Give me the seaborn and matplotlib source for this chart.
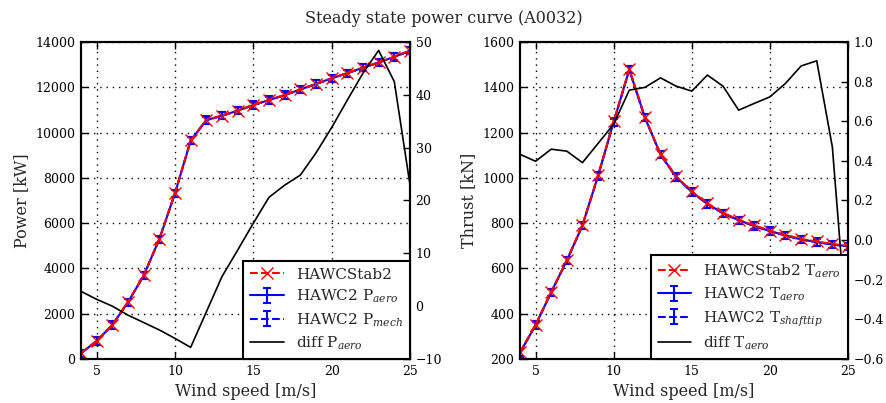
import matplotlib
matplotlib.use("Agg")
import matplotlib.pyplot as plt
import seaborn as sns
import pandas as pd
from matplotlib.lines import Line2D

# ---------------- data ----------------
wind = [4, 5, 6, 7, 8, 9, 10, 11, 12, 13, 14, 15, 16, 17, 18, 19, 20, 21, 22, 23, 24, 25]

power_hs2 = [260, 800, 1510, 2520, 3690, 5300, 7330, 9650, 10560, 10750, 10970, 11220,
             11440, 11660, 11910, 12150, 12400, 12630, 12870, 13100, 13350, 13620]
power_h2_aero = [255, 795, 1500, 2510, 3680, 5290, 7320, 9640, 10550, 10745, 10965, 11215,
                 11435, 11655, 11905, 12145, 12395, 12625, 12865, 13095, 13345, 13615]
power_h2_mech = [250, 790, 1495, 2505, 3675, 5285, 7315, 9635, 10545, 10740, 10960, 11210,
                 11430, 11650, 11900, 12140, 12390, 12620, 12860, 13090, 13340, 13610]
power_std = [160, 160, 160, 160, 160, 160, 160, 160, 160, 160, 160, 160,
             160, 160, 160, 160, 160, 160, 160, 160, 160, 160]
diff_power = [2.8, 1.3, 0.0, -1.7, -3.1, -4.5, -6.1, -7.8, -1.1, 5.6, 10.6, 15.7,
              20.6, 22.9, 24.8, 29.0, 33.8, 39.0, 44.1, 48.4, 42.5, 23.0]

thrust_hs2 = [230, 352, 497, 637, 792, 1011, 1249, 1481, 1269, 1105, 1006, 940,
              887, 846, 815, 790, 767, 748, 730, 719, 708, 700]
thrust_h2_aero = [228, 350, 495, 635, 790, 1009, 1247, 1478, 1266, 1103, 1004, 938,
                  885, 844, 813, 788, 765, 746, 728, 717, 706, 698]
thrust_h2_shaft = [227, 349, 494, 634, 789, 1008, 1246, 1477, 1265, 1102, 1003, 937,
                   884, 843, 812, 787, 764, 745, 727, 716, 705, 697]
thrust_std = [16, 16, 16, 16, 16, 16, 16, 16, 16, 16, 16, 16,
              16, 16, 16, 16, 16, 16, 16, 16, 16, 16]
diff_thrust = [0.433, 0.398, 0.459, 0.449, 0.391, 0.488, 0.585, 0.757, 0.771, 0.819, 0.777, 0.752,
               0.833, 0.777, 0.656, 0.690, 0.723, 0.791, 0.879, 0.905, 0.470, -0.52]

title = "Steady state power curve (A0032)"
xticks = [5, 10, 15, 20, 25]

# ---------------- style ----------------
sns.set_theme(style="white")
plt.rcParams["font.family"] = ["DejaVu Serif"]
plt.rcParams["mathtext.fontset"] = "dejavuserif"
plt.rcParams["xtick.direction"] = "in"
plt.rcParams["ytick.direction"] = "in"
plt.rcParams["axes.edgecolor"] = "black"
plt.rcParams["axes.linewidth"] = 1.5

fig = plt.figure(figsize=(8.87, 4.03), dpi=100)
fig.patch.set_facecolor("white")
axL = fig.add_axes([0.0913, 0.1092, 0.3709, 0.7866])
axR = fig.add_axes([0.5862, 0.1092, 0.3698, 0.7866])

df_p = pd.DataFrame({"wind": wind, "hs2": power_hs2, "diff": diff_power})
df_t = pd.DataFrame({"wind": wind, "hs2": thrust_hs2, "diff": diff_thrust})

TICK_FS = 9
LAB_FS = 11.5
LEG_FS = 11


def panel(ax, df, h2a, h2b, std, ylabel, ylim, yticks, y2lim, y2ticks, labels):
    e1 = ax.errorbar(wind, h2a, yerr=std, color="blue", ls="-", lw=1.5, capsize=3,
                     elinewidth=1.5, capthick=1.5, zorder=2)
    e2 = ax.errorbar(wind, h2b, yerr=std, color="blue", ls="--", lw=1.5, capsize=3,
                     elinewidth=1.5, capthick=1.5, zorder=2)
    sns.lineplot(data=df, x="wind", y="hs2", ax=ax, color="red", linestyle="--", lw=1.5,
                 marker="x", markersize=9, markeredgewidth=1.0, markeredgecolor="red",
                 zorder=3, legend=False)
    ax.set_xlim(4, 25)
    ax.set_xticks(xticks)
    ax.set_ylim(*ylim)
    ax.set_yticks(yticks)
    ax.grid(True, color="black", linestyle=(0, (1, 3.5)), linewidth=1.0)
    ax.set_xlabel("Wind speed [m/s]", fontsize=LAB_FS)
    ax.set_ylabel(ylabel, fontsize=LAB_FS)
    ax.tick_params(axis="both", labelsize=TICK_FS, length=5, width=1, colors="black",
                   top=True, right=False, left=True, bottom=True, pad=4)
    for s in ax.spines.values():
        s.set_color("black")
        s.set_linewidth(1.5)

    ax2 = ax.twinx()
    sns.lineplot(data=df, x="wind", y="diff", ax=ax2, color="black", lw=1.2, legend=False)
    ax2.set_ylim(*y2lim)
    ax2.set_yticks(y2ticks)
    ax2.set_ylabel("")
    ax2.tick_params(axis="y", labelsize=TICK_FS, length=5, width=1, colors="black", pad=4)
    ax2.grid(False)
    for s in ax2.spines.values():
        s.set_color("black")
        s.set_linewidth(1.5)

    h_red = Line2D([], [], color="red", ls="--", lw=1.5, marker="x", markersize=9,
                   markeredgewidth=1.0)
    h_blk = Line2D([], [], color="black", lw=1.2)
    leg = ax2.legend([h_red, e1, e2, h_blk], labels, loc="lower right", fontsize=LEG_FS,
                     frameon=True, fancybox=False, framealpha=1.0, edgecolor="black",
                     borderaxespad=0.0, handlelength=2.2, labelspacing=0.4,
                     borderpad=0.45)
    leg.get_frame().set_linewidth(1.5)
    leg.set_zorder(10)
    return ax2


panel(axL, df_p, power_h2_aero, power_h2_mech, power_std, "Power [kW]",
      (0, 14000), list(range(0, 14001, 2000)), (-10, 50), list(range(-10, 51, 10)),
      ["HAWCStab2", "HAWC2 P$_{aero}$", "HAWC2 P$_{mech}$", "diff P$_{aero}$"])

panel(axR, df_t, thrust_h2_aero, thrust_h2_shaft, thrust_std, "Thrust [kN]",
      (200, 1600), list(range(200, 1601, 200)), (-0.6, 1.0),
      [-0.6, -0.4, -0.2, 0.0, 0.2, 0.4, 0.6, 0.8, 1.0],
      ["HAWCStab2 T$_{aero}$", "HAWC2 T$_{aero}$", "HAWC2 T$_{shafttip}$", "diff T$_{aero}$"])

fig.suptitle(title, fontsize=LAB_FS, x=0.5, y=0.975)

fig.savefig("out.png", dpi=100, facecolor="white")
